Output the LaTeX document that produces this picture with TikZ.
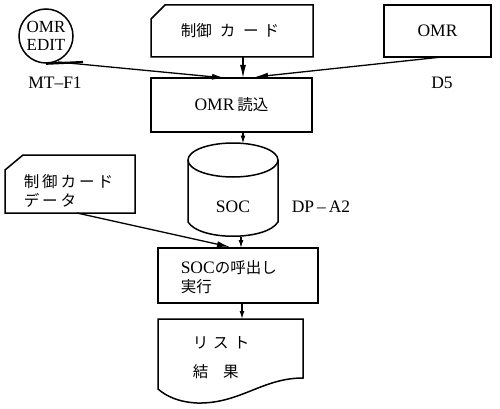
\documentclass[tikz,border=0pt]{standalone}
\usepackage{fontspec}
\setmainfont{Liberation Serif}
\newfontfamily\jp{Noto Sans CJK JP}
\usetikzlibrary{arrows.meta}
\newcommand{\jt}[1]{{\jp\fontsize{15.5}{18}\selectfont #1}}

\begin{document}
\begin{tikzpicture}[x=1pt, y=-1pt, line width=1.5pt,
  every node/.style={font=\rmfamily\fontsize{17.5}{19}\selectfont, inner sep=0pt},
  box/.style={draw, rectangle, line width=1.5pt},
  flow/.style={line width=1.3pt, -{Latex[length=13pt,width=6pt]}},
  short/.style={line width=1.3pt, -{Latex[length=8pt,width=5pt]}}]
	\useasboundingbox (0,0) rectangle (500,409);
	% magnetic tape
	\node (tape) [draw, circle, line width=1.5pt, minimum size=54pt, align=center, font=\rmfamily\fontsize{17}{18}\selectfont] at (46,36) {OMR\\EDIT};
	\coordinate (tapetail) at (83,62);
	\draw[line width=2.2pt] (tape.south) -- (tapetail);
	\node (mtf) at (55,83) {MT--F1};
	% control card
	\draw (151,19) -- (165,5) -- (313,5) -- (313,57) -- (151,57) -- cycle;
	\node (ctltxt) at (230,31) {\jt{制御\hspace{8pt}カ\hspace{8pt}ー\hspace{5pt}ド}};
	% OMR unit
	\node (omr) [box, minimum width=107pt, minimum height=52pt] at (437.5,31) {OMR};
	\node (dfive) at (442,83) {D5};
	% read
	\node (readin) [box, minimum width=161pt, minimum height=54pt] at (231.5,105) {OMR\,\jt{読込}};
	% disk
	\draw (233,160) ellipse [x radius=45pt, y radius=17pt];
	\draw (188,160) -- (188,222) .. controls (200,241) and (266,241) .. (278,222) -- (278,160);
	\node (soc) at (233,207) {SOC};
	\node (dpa) at (321,207) {DP\,--\,A2};
	% control card data
	\draw (5,170) -- (23,155) -- (135,155) -- (135,213) -- (5,213) -- cycle;
	\node (data1) [anchor=west] at (23,182) {\jt{制\hspace{3pt}御\hspace{3pt}カ\hspace{3pt}ー\hspace{3pt}ド}};
	\node (data2) [anchor=west] at (23,200) {\jt{デ\hspace{3pt}ー\hspace{3pt}タ}};
	% execute
	\node (exec) [box, minimum width=160pt, minimum height=55pt] at (238,275.5) {};
	\node (exec1) [anchor=west] at (180,268) {SOC\jt{の呼出し}};
	\node (exec2) [anchor=west] at (180,287) {\jt{実行}};
	% list
	\draw (158,319) -- (303,319) -- (303,378) .. controls (262,378) and (240,404) .. (197,403) .. controls (178,402) and (166,396) .. (158,389) -- cycle;
	\node (list1) [anchor=west] at (192,343) {\jt{リ\hspace{5pt}ス\hspace{5pt}ト}};
	\node (list2) [anchor=west] at (192,372) {\jt{結\hspace{15pt}果}};
	% connector ends
	\coordinate (tapeout) at (58,62);
	\coordinate (readinL) at (225,78);
	\coordinate (cardout) at (243,57);
	\coordinate (readinM) at (243,78);
	\coordinate (omrout) at (442,57);
	\coordinate (readinR) at (255,77);
	\coordinate (readout) at (243,132);
	\coordinate (cyltop) at (243,143.5);
	\coordinate (cylbot) at (241,237);
	\coordinate (execM) at (241,248);
	\coordinate (dataout) at (77,213);
	\coordinate (execL) at (230,247);
	\coordinate (execout) at (242,303);
	\coordinate (listin) at (242,319);
	% connectors
	\draw[flow] (tapeout) -- (readinL);
	\draw[flow] (cardout) -- (readinM);
	\draw[flow] (omrout) -- (readinR);
	\draw[short] (readout) -- (cyltop);
	\draw[short] (cylbot) -- (execM);
	\draw[flow] (dataout) -- (execL);
	\draw[short] (execout) -- (listin);
\end{tikzpicture}
\end{document}
